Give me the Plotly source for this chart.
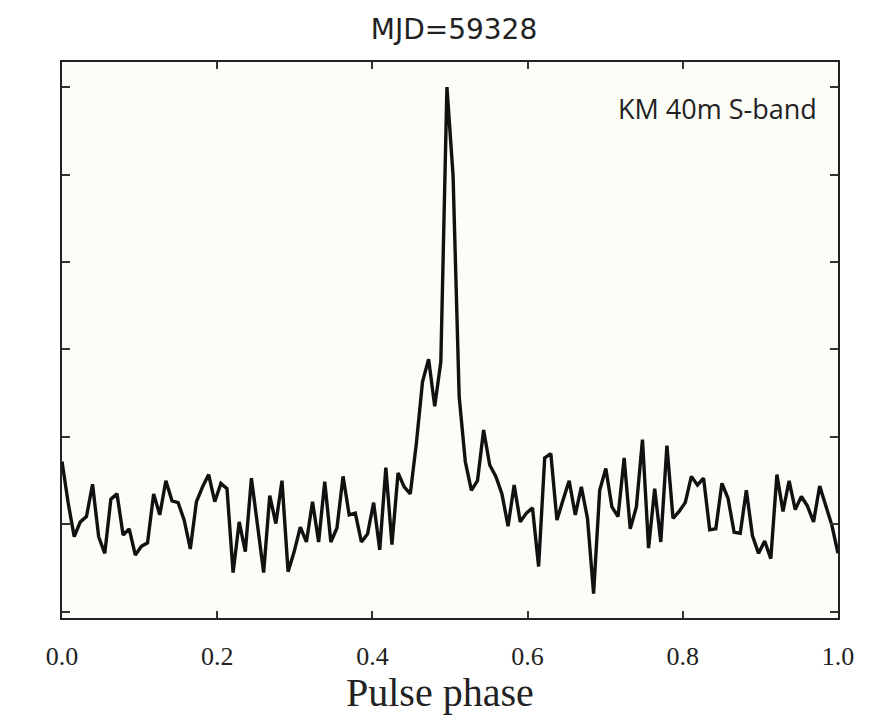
import plotly.graph_objects as go
import numpy as np

# Pulse profile intensity (arbitrary units), 128 phase bins
intensity = [
    1.72, 1.25, 0.86, 1.03, 1.09, 1.46, 0.86, 0.67, 1.29, 1.35,
    0.88, 0.95, 0.65, 0.75, 0.79, 1.35, 1.11, 1.50, 1.27, 1.25,
    1.05, 0.72, 1.26, 1.43, 1.57, 1.26, 1.47, 1.41, 0.45, 1.03,
    0.69, 1.53, 0.99, 0.45, 1.33, 1.01, 1.50, 0.46, 0.69, 0.97,
    0.80, 1.26, 0.80, 1.49, 0.80, 0.96, 1.55, 1.11, 1.13, 0.80,
    0.89, 1.25, 0.71, 1.65, 0.77, 1.59, 1.43, 1.35, 1.93, 2.63,
    2.89, 2.35, 2.86, 6.00, 4.99, 2.46, 1.72, 1.39, 1.50, 2.08,
    1.68, 1.55, 1.35, 0.98, 1.45, 1.03, 1.13, 1.19, 0.52, 1.76,
    1.81, 1.05, 1.28, 1.50, 1.11, 1.43, 1.07, 0.21, 1.39, 1.64,
    1.20, 1.09, 1.76, 0.95, 1.20, 1.97, 0.73, 1.41, 0.80, 1.90,
    1.07, 1.15, 1.25, 1.55, 1.45, 1.53, 0.94, 0.95, 1.47, 1.30,
    0.91, 0.90, 1.39, 0.87, 0.67, 0.81, 0.61, 1.57, 1.15, 1.50,
    1.17, 1.32, 1.21, 1.03, 1.44, 1.21, 0.99, 0.67,
]
phase = np.linspace(0.0, 1.0, len(intensity))

x_ticks = [0.0, 0.2, 0.4, 0.6, 0.8, 1.0]
x_tick_labels = ["0.0", "0.2", "0.4", "0.6", "0.8", "1.0"]
y_ticks = [0, 1, 2, 3, 4, 5, 6]

title_text = "MJD=59328"
label_text = "KM 40m S-band"
x_title = "Pulse phase"

fig = go.Figure()
fig.add_trace(go.Scatter(
    x=phase, y=intensity, mode="lines",
    line=dict(color="#111111", width=3.4),
    showlegend=False, hoverinfo="skip",
))

fig.update_layout(
    width=871, height=718,
    margin=dict(l=62, r=33, t=62, b=100),
    paper_bgcolor="white",
    plot_bgcolor="#fdfdf7",
    title=dict(
        text=title_text, x=454 / 871, xref="container", y=1 - 29 / 718, yref="container",
        xanchor="center", yanchor="middle",
        font=dict(family="DejaVu Sans", size=28, color="#222222"),
    ),
    annotations=[
        dict(
            text=label_text, xref="paper", yref="paper",
            x=0.975, y=0.917, xanchor="right", yanchor="middle", showarrow=False,
            font=dict(family="Open Sans", size=27, color="#222222"),
        ),
        dict(
            text=x_title, xref="paper", yref="paper",
            x=(440 - 62) / 776, y=(618 - 692) / 556, xanchor="center", yanchor="middle",
            showarrow=False,
            font=dict(family="Liberation Serif", size=40, color="#222222"),
        ),
    ],
)

fig.update_xaxes(
    range=[0, 1], tickvals=x_ticks, ticktext=x_tick_labels,
    ticks="inside", ticklen=7, tickwidth=1.5, tickcolor="#333333",
    showline=True, linecolor="#222222", linewidth=2, mirror="ticks",
    showgrid=False, zeroline=False,
    tickfont=dict(family="Liberation Serif", size=26, color="#222222"),
    ticklabelstandoff=14,
)
fig.update_yaxes(
    range=[-0.069, 6.286], tickvals=y_ticks, showticklabels=False,
    ticks="inside", ticklen=8, tickwidth=1.5, tickcolor="#333333",
    showline=True, linecolor="#222222", linewidth=2, mirror="ticks",
    showgrid=False, zeroline=False,
)

fig.write_html("out.html")
